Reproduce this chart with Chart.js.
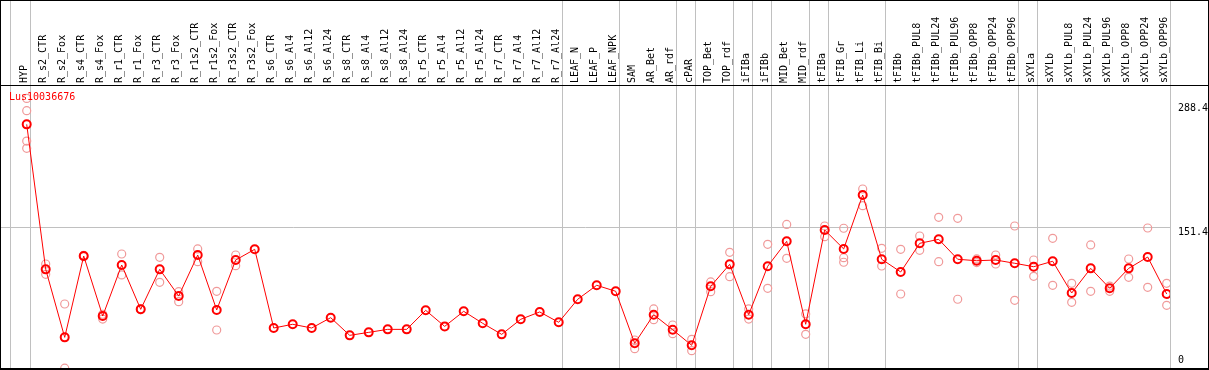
<!DOCTYPE html>
<html>
<head>
<meta charset="utf-8">
<script src="https://cdn.jsdelivr.net/npm/chart.js@4/dist/chart.umd.min.js"></script>
<style>
  html, body { margin: 0; padding: 0; background: #fff; }
  #wrap { width: 1209px; height: 370px; }
</style>
</head>
<body>
<div id="wrap"><canvas id="c" width="1209" height="370"></canvas></div>
<script>
const geneName = "Lus10036676";

const categories = ["HYP","R_s2_CTR","R_s2_Fox","R_s4_CTR","R_s4_Fox","R_r1_CTR","R_r1_Fox","R_r3_CTR","R_r3_Fox",
  "R_r1s2_CTR","R_r1s2_Fox","R_r3s2_CTR","R_r3s2_Fox","R_s6_CTR","R_s6_Al4","R_s6_Al12","R_s6_Al24",
  "R_s8_CTR","R_s8_Al4","R_s8_Al12","R_s8_Al24","R_r5_CTR","R_r5_Al4","R_r5_Al12","R_r5_Al24",
  "R_r7_CTR","R_r7_Al4","R_r7_Al12","R_r7_Al24","LEAF_N","LEAF_P","LEAF_NPK","SAM","AR_Bet","AR_rdf",
  "cPAR","TOP_Bet","TOP_rdf","iFIBa","iFIBb","MID_Bet","MID_rdf","tFIBa","tFIB_Gr","tFIB_Li","tFIB_Bi",
  "tFIBb","tFIBb_PUL8","tFIBb_PUL24","tFIBb_PUL96","tFIBb_OPP8","tFIBb_OPP24","tFIBb_OPP96",
  "sXYLa","sXYLb","sXYLb_PUL8","sXYLb_PUL24","sXYLb_PUL96","sXYLb_OPP8","sXYLb_OPP24","sXYLb_OPP96"];

const meanValues = [265.4,105.5,30.5,120.2,54,110.3,61.4,105.5,76.1,
  121.3,60.7,115.8,127.6,40.8,44.9,40.8,52.2,
  32.7,36,39.3,39.3,60.3,42.6,59.2,46,
  33.8,50.4,58.5,47.1,72.5,87.9,81.3,23.9,55.5,38.9,
  21.7,86.8,111,55.5,108.9,136.4,44.9,148.9,128,187.5,116.6,
  102.6,134.2,138.6,116.6,115,115.8,112.2,
  108.4,114.4,79.4,106.6,84.6,106.6,119.1,78.3];

const rep1 = [294,111.4,67.3,121,56,122.4,62,118.8,80.9,
  128,81.3,121.3,null,null,null,null,null,
  null,null,null,null,null,null,null,null,
  null,null,null,null,null,null,null,27.6,61.8,44.1,
  28.3,91.6,124.3,61.8,133.1,155,56.3,153.3,150.8,194.1,128.7,
  127.6,142.3,162.9,161.8,117,121.3,153.3,
  115.8,139.7,90.1,132.4,87,116.9,151.1,90.1];

const rep2 = [280.5,100,-3.5,119.5,50.7,99.3,61,91.2,69.8,
  114,38.6,109.5,null,null,null,null,null,
  null,null,null,null,null,null,null,null,
  null,null,null,null,null,null,null,18,50,34.5,
  15.8,80.9,97.4,50.7,84.6,117.7,33.8,141.5,118.4,175.7,109.2,
  78.3,126.5,114,72.5,113,111.4,71.3,
  97.8,87.9,69.1,81.3,81.3,96.7,85.7,65.8];

const rep3 = [247,null,null,null,null,null,null,null,null,
  null,null,null,null,null,null,null,null,
  null,null,null,null,null,null,null,null,
  null,null,null,null,null,null,null,null,null,null,
  null,null,null,null,null,null,null,null,113.3,null,null,
  null,null,null,null,null,null,null,
  null,null,null,null,null,null,null,null];

const rep4 = [239,null,null,null,null,null,null,null,null,
  null,null,null,null,null,null,null,null,
  null,null,null,null,null,null,null,null,
  null,null,null,null,null,null,null,null,null,null,
  null,null,null,null,null,null,null,null,null,null,null,
  null,null,null,null,null,null,null,
  null,null,null,null,null,null,null,null];

const yTicks = [0, 151.4, 288.4];
const groupBoundaries = [-0.86, 0.19, 28.19, 31.19, 34.19, 35.19, 37.19, 38.19, 39.19, 41.19, 42.19, 45.19, 52.19, 53.19, 60.19];

const toPts = arr => arr.map((v, i) => v === null ? null : ({x: i, y: v})).filter(p => p);

const MONO = '"DejaVu Sans Mono", "Liberation Mono", monospace';
const PINK = '#f09a9a';
const RED = '#ff0000';

const noPad = s => {
  s.paddingTop = 0; s.paddingBottom = 0; s.paddingLeft = 0; s.paddingRight = 0;
  s.getPadding = () => ({ left: 0, top: 0, right: 0, bottom: 0 });
};

const framePlugin = {
  id: 'frame',
  beforeDatasetsDraw(chart) {
    const ctx = chart.ctx;
    const xs = chart.scales.x;
    ctx.save();
    ctx.strokeStyle = '#c0c0c0';
    ctx.lineWidth = 1;
    groupBoundaries.forEach(b => {
      const px = Math.round(xs.getPixelForValue(b)) + 0.5;
      ctx.beginPath();
      ctx.moveTo(px, 0);
      ctx.lineTo(px, chart.chartArea.bottom);
      ctx.stroke();
    });
    ctx.restore();
  },
  afterDraw(chart) {
    const ctx = chart.ctx;
    const W = chart.width;
    const ca = chart.chartArea;
    ctx.save();
    ctx.fillStyle = '#000';
    ctx.fillRect(0, 0, W, 1);
    ctx.fillRect(0, 0, 1, ca.bottom + 2);
    ctx.fillRect(W - 1, 0, 1, ca.bottom + 2);
    ctx.fillRect(0, ca.top - 1, W, 1);
    ctx.fillRect(0, ca.bottom, W, 2);
    ctx.fillStyle = RED;
    ctx.font = '10px ' + MONO;
    ctx.textBaseline = 'middle';
    ctx.textAlign = 'left';
    ctx.fillText(geneName, ca.left + 8, ca.top + 11);
    ctx.restore();
  }
};

new Chart(document.getElementById('c'), {
  type: 'scatter',
  data: {
    datasets: [
      {
        data: toPts(meanValues),
        showLine: true,
        borderColor: RED,
        borderWidth: 1,
        pointRadius: 4,
        pointBorderWidth: 2,
        pointBorderColor: RED,
        pointBackgroundColor: 'rgba(0,0,0,0)',
        tension: 0
      },
      { data: toPts(rep1), showLine: false, pointRadius: 4, pointBorderWidth: 1.2, pointBorderColor: PINK, pointBackgroundColor: 'rgba(0,0,0,0)' },
      { data: toPts(rep2), showLine: false, pointRadius: 4, pointBorderWidth: 1.2, pointBorderColor: PINK, pointBackgroundColor: 'rgba(0,0,0,0)' },
      { data: toPts(rep3), showLine: false, pointRadius: 4, pointBorderWidth: 1.2, pointBorderColor: PINK, pointBackgroundColor: 'rgba(0,0,0,0)' },
      { data: toPts(rep4), showLine: false, pointRadius: 4, pointBorderWidth: 1.2, pointBorderColor: PINK, pointBackgroundColor: 'rgba(0,0,0,0)' }
    ]
  },
  options: {
    responsive: false,
    animation: false,
    devicePixelRatio: 1,
    layout: { autoPadding: false, padding: { left: 1, right: 0, top: 0, bottom: 2 } },
    plugins: { legend: { display: false }, tooltip: { enabled: false }, title: { display: false } },
    scales: {
      x: {
        type: 'linear',
        position: 'top',
        min: -1.353,
        max: 60.174,
        afterBuildTicks: s => { s.ticks = categories.map((_, i) => ({ value: i })); },
        afterFit: s => { s.height = 86; noPad(s); },
        grid: { display: false, drawTicks: false },
        border: { display: false },
        ticks: {
          autoSkip: false,
          minRotation: 90,
          maxRotation: 90,
          padding: 3,
          labelOffset: 8,
          color: '#000',
          font: { family: MONO, size: 10, lineHeight: 1 },
          callback: (v, i) => categories[i]
        }
      },
      y: {
        type: 'linear',
        position: 'right',
        min: -3.3,
        max: 307.7,
        afterBuildTicks: s => { s.ticks = yTicks.map(v => ({ value: v })); },
        afterFit: s => { s.width = 39; noPad(s); },
        grid: {
          drawTicks: false,
          color: c => (c.tick && c.tick.value === 151.4) ? '#c0c0c0' : 'rgba(0,0,0,0)',
          lineWidth: 1
        },
        border: { display: false },
        ticks: {
          padding: 8,
          color: '#000',
          font: { family: MONO, size: 10, lineHeight: 1 },
          callback: v => v === 0 ? ['0', ''] : ['', String(v)]
        }
      }
    }
  },
  plugins: [framePlugin]
});
</script>
</body>
</html>
